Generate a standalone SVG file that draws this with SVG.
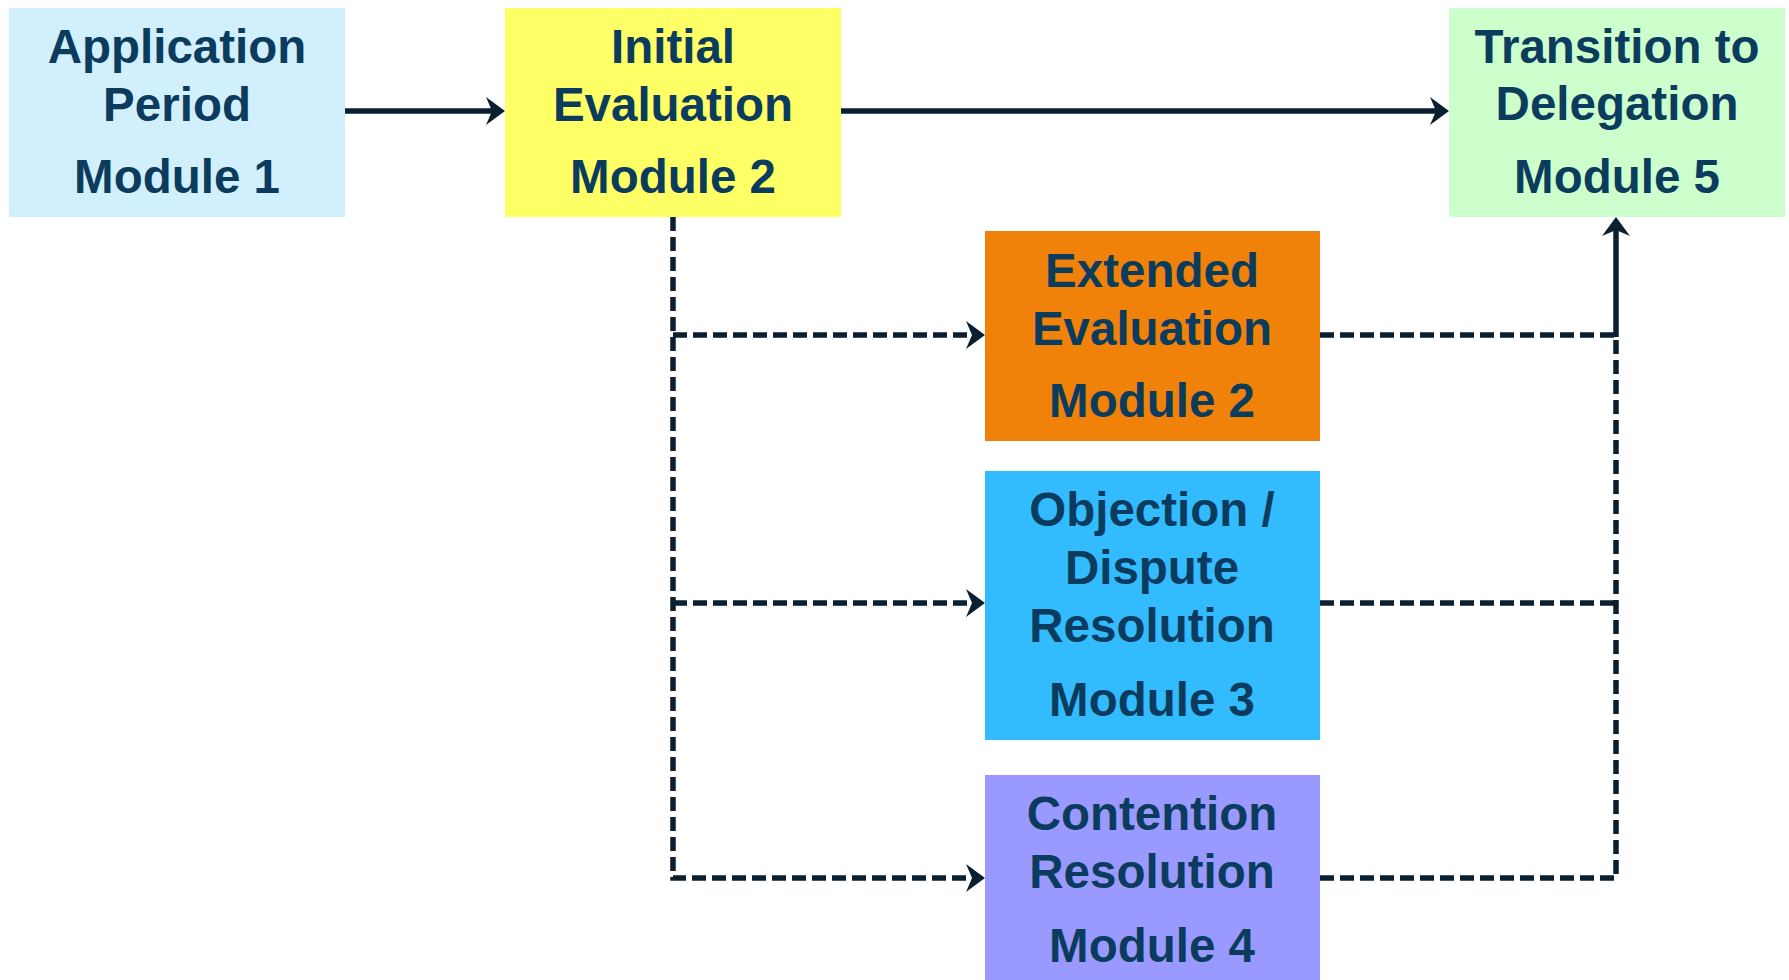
<svg xmlns="http://www.w3.org/2000/svg" width="1789" height="980" viewBox="0 0 1789 980">
<style>
.lbl{font-family:"Liberation Sans",Arial,sans-serif;font-weight:bold;font-size:47.5px;fill:#0B3C5D;text-anchor:middle}
.solid{fill:none;stroke:#0A2030;stroke-width:5.5}
.dash{fill:none;stroke:#0A2030;stroke-width:5.5;stroke-dasharray:14 6}
</style>
<defs>
<marker id="arr" markerUnits="userSpaceOnUse" markerWidth="20" markerHeight="28" refX="10" refY="14" orient="auto">
<path d="M0,0 L19,14 L0,28 L6,14 z" fill="#0A2030"/>
</marker>
</defs>
<rect width="1789" height="980" fill="#FFFFFF"/>
<g id="connectors">
<line class="solid" x1="345" y1="111" x2="496" y2="111" marker-end="url(#arr)"/>
<line class="solid" x1="841" y1="111" x2="1440" y2="111" marker-end="url(#arr)"/>
<path class="dash" d="M673,217 V878 H976" marker-end="url(#arr)"/>
<line class="dash" x1="673" y1="335" x2="976" y2="335" marker-end="url(#arr)"/>
<line class="dash" x1="673" y1="603" x2="976" y2="603" marker-end="url(#arr)"/>
<line class="dash" x1="1320" y1="335" x2="1616" y2="335"/>
<line class="dash" x1="1320" y1="603" x2="1616" y2="603"/>
<path class="dash" d="M1320,878 H1616 V335"/>
<line class="solid" x1="1616" y1="337" x2="1616" y2="226" marker-end="url(#arr)"/>
</g>
<g id="node-application">
<rect x="9" y="8" width="336" height="209" fill="#D1EFFC"/>
<text class="lbl" x="177" y="63">Application</text>
<text class="lbl" x="177" y="121">Period</text>
<text class="lbl" x="177" y="193">Module 1</text>
</g>
<g id="node-initial">
<rect x="505" y="8" width="336" height="209" fill="#FFFF66"/>
<text class="lbl" x="673" y="63">Initial</text>
<text class="lbl" x="673" y="121">Evaluation</text>
<text class="lbl" x="673" y="193">Module 2</text>
</g>
<g id="node-transition">
<rect x="1449" y="8" width="336" height="209" fill="#CCFFCC"/>
<text class="lbl" x="1617" y="63">Transition to</text>
<text class="lbl" x="1617" y="120">Delegation</text>
<text class="lbl" x="1617" y="193">Module 5</text>
</g>
<g id="node-extended">
<rect x="985" y="231" width="335" height="210" fill="#F0820A"/>
<text class="lbl" x="1152" y="287">Extended</text>
<text class="lbl" x="1152" y="345">Evaluation</text>
<text class="lbl" x="1152" y="417">Module 2</text>
</g>
<g id="node-objection">
<rect x="985" y="471" width="335" height="269" fill="#33BBFF"/>
<text class="lbl" x="1152" y="526">Objection /</text>
<text class="lbl" x="1152" y="584">Dispute</text>
<text class="lbl" x="1152" y="642">Resolution</text>
<text class="lbl" x="1152" y="716">Module 3</text>
</g>
<g id="node-contention">
<rect x="985" y="775" width="335" height="205" fill="#9999FF"/>
<text class="lbl" x="1152" y="830">Contention</text>
<text class="lbl" x="1152" y="888">Resolution</text>
<text class="lbl" x="1152" y="962">Module 4</text>
</g>
</svg>
